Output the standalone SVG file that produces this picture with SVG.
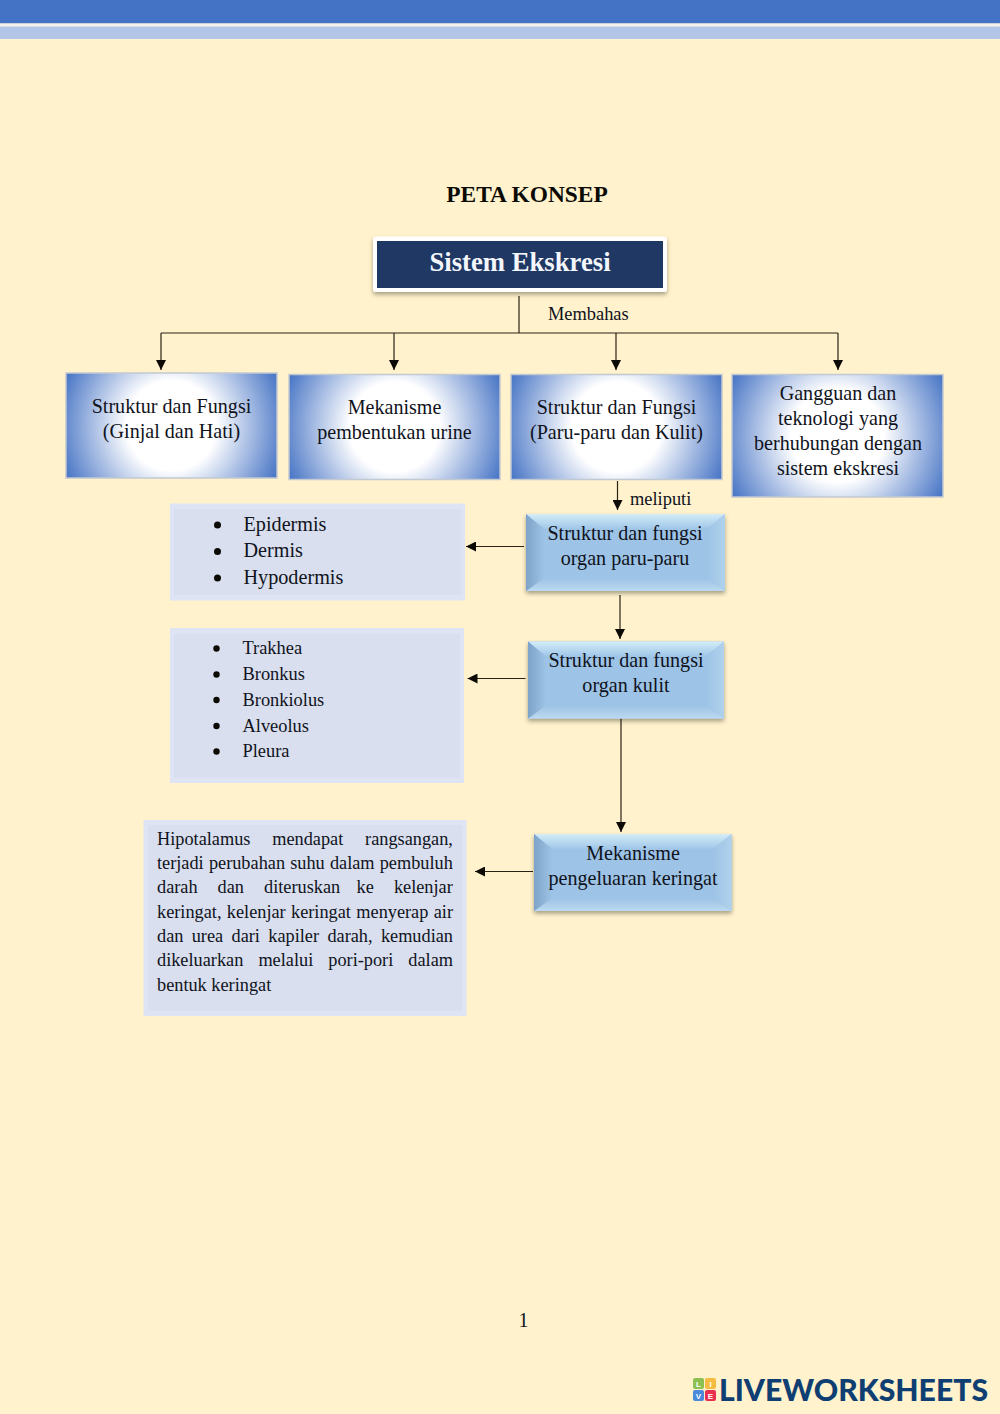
<svg xmlns="http://www.w3.org/2000/svg" width="1000" height="1414" viewBox="0 0 1000 1414">
<style>
text{font-family:"Liberation Serif","Times New Roman",serif;fill:#10131c}
.c{text-anchor:middle}
.n{font-size:20.1px}
.l{font-size:20.2px}
.m{font-size:18.400px}
.p{font-size:18.300px}
.t{font-size:18.400px}
.line{fill:none;stroke:#2a2214;stroke-width:1.2}
.rad{stroke:#c3c9d0;stroke-width:1.5}
.pale{fill:#dee4f3}
.palein{fill:#d9dfee}
.bm{fill:#9dc3e6}
.bt{fill:url(#bt)}
.bb{fill:url(#bb)}
.bl{fill:url(#bl)}
.br{fill:url(#br)}
</style>
<defs>
<radialGradient id="stops"><stop offset="0.38" stop-color="#fff"/><stop offset="1" stop-color="#4472c4"/></radialGradient>
<radialGradient id="rad1" href="#stops" gradientUnits="userSpaceOnUse" cx="171.500" cy="425.500" r="118"/>
<radialGradient id="rad2" href="#stops" gradientUnits="userSpaceOnUse" cx="394.500" cy="427" r="118"/>
<radialGradient id="rad3" href="#stops" gradientUnits="userSpaceOnUse" cx="616.500" cy="427" r="118"/>
<radialGradient id="rad4" href="#stops" gradientUnits="userSpaceOnUse" cx="837.500" cy="435.750" r="122"/>
<linearGradient id="bt" x1="0" y1="0" x2="0" y2="1"><stop offset="0" stop-color="#d4edf8"/><stop offset="1" stop-color="#9fc6e8"/></linearGradient>
<linearGradient id="bb" x1="0" y1="0" x2="0" y2="1"><stop offset="0" stop-color="#9dc3e6"/><stop offset="1" stop-color="#bcd9f0"/></linearGradient>
<linearGradient id="bl" x1="0" y1="0" x2="1" y2="0"><stop offset="0" stop-color="#7ea3c8"/><stop offset="1" stop-color="#9dc3e6"/></linearGradient>
<linearGradient id="br" x1="0" y1="0" x2="1" y2="0"><stop offset="0" stop-color="#9dc3e6"/><stop offset="1" stop-color="#b0d2ec"/></linearGradient>
<marker id="arrow" viewBox="0 0 10 10" refX="10" refY="5" markerWidth="10" markerHeight="10" markerUnits="userSpaceOnUse" orient="auto"><path d="M0 0L10 5L0 10Z" fill="#0c0a05"/></marker>
<filter id="sh" x="-10%" y="-15%" width="120%" height="135%"><feDropShadow dx="0" dy="2.5" stdDeviation="2" flood-color="#000" flood-opacity="0.35"/></filter>
</defs>

<rect width="1000" height="1414" fill="#fff2cc"/>
<rect width="1000" height="23.5" fill="#4472c4"/>
<rect y="23.5" width="1000" height="3" fill="#f4f1ef"/>
<rect y="26.5" width="1000" height="12.5" fill="#b4c6e7"/>

<text id="title" x="527" y="202" class="c" font-size="23.400" font-weight="bold" style="fill:#0c0a05">PETA KONSEP</text>

<g id="connectors">
<path class="line" d="M519 296V333"/>
<path class="line" d="M161 333H838"/>
<path class="line" d="M161 333V370" marker-end="url(#arrow)"/>
<path class="line" d="M394 333V370" marker-end="url(#arrow)"/>
<path class="line" d="M616 333V370" marker-end="url(#arrow)"/>
<path class="line" d="M838 333V370" marker-end="url(#arrow)"/>
<path class="line" d="M617.500 481V510" marker-end="url(#arrow)"/>
<path class="line" d="M524 546.500H466" marker-end="url(#arrow)"/>
<path class="line" d="M620 595V639" marker-end="url(#arrow)"/>
<path class="line" d="M525.500 678.500H467.500" marker-end="url(#arrow)"/>
<path class="line" d="M621 718V832" marker-end="url(#arrow)"/>
<path class="line" d="M533 871.500H475" marker-end="url(#arrow)"/>
</g>
<text id="label-membahas" class="t" x="548" y="319.500">Membahas</text>
<text id="label-meliputi" class="t" x="630" y="505">meliputi</text>

<g id="root">
<rect x="373" y="236.500" width="294" height="55.500" rx="3" fill="#fff" filter="url(#sh)"/>
<rect x="377" y="241" width="286" height="47" fill="#1f3864"/>
<text x="520" y="271" class="c" font-size="26.700" font-weight="bold" style="fill:#f3f6fb">Sistem Ekskresi</text>
</g>

<g id="topic-1">
<rect class="rad" fill="url(#rad1)" x="66" y="373" width="211" height="105"/>
<text class="c n" x="171.500" y="413">Struktur dan Fungsi</text>
<text class="c n" x="171.500" y="438">(Ginjal dan Hati)</text>
</g>
<g id="topic-2">
<rect class="rad" fill="url(#rad2)" x="289" y="374.500" width="211" height="105"/>
<text class="c n" x="394.500" y="414">Mekanisme</text>
<text class="c n" x="394.500" y="439">pembentukan urine</text>
</g>
<g id="topic-3">
<rect class="rad" fill="url(#rad3)" x="511" y="374.500" width="211" height="105"/>
<text class="c n" x="616.500" y="414">Struktur dan Fungsi</text>
<text class="c n" x="616.500" y="439">(Paru-paru dan Kulit)</text>
</g>
<g id="topic-4">
<rect class="rad" fill="url(#rad4)" x="732" y="374.500" width="211" height="122.500"/>
<text class="c n" x="838" y="399.500">Gangguan dan</text>
<text class="c n" x="838" y="424.500">teknologi yang</text>
<text class="c n" x="838" y="449.500">berhubungan dengan</text>
<text class="c n" x="838" y="474.500">sistem ekskresi</text>
</g>

<g id="organ-paru">
<g filter="url(#sh)">
<rect class="bm" x="526" y="514" width="199" height="77"/>
<path class="bt" d="M526 514H725L707 529H544Z"/>
<path class="bb" d="M526 591H725L707 578H544Z"/>
<path class="bl" d="M526 514L544 529V578L526 591Z"/>
<path class="br" d="M725 514L707 529V578L725 591Z"/>
</g>
<text class="c n" x="625" y="539.500">Struktur dan fungsi</text>
<text class="c n" x="625" y="564.500">organ paru-paru</text>
</g>

<g id="organ-kulit">
<g filter="url(#sh)">
<rect class="bm" x="528" y="641.500" width="196" height="77"/>
<path class="bt" d="M528 641.500H724L706 656.500H546Z"/>
<path class="bb" d="M528 718.500H724L706 705.500H546Z"/>
<path class="bl" d="M528 641.500L546 656.500V705.500L528 718.500Z"/>
<path class="br" d="M724 641.500L706 656.500V705.500L724 718.500Z"/>
</g>
<text class="c n" x="626" y="666.500">Struktur dan fungsi</text>
<text class="c n" x="626" y="691.500">organ kulit</text>
</g>

<g id="mekanisme-keringat">
<g filter="url(#sh)">
<rect class="bm" x="534" y="834" width="197.500" height="77"/>
<path class="bt" d="M534 834H731.500L713.500 849H552Z"/>
<path class="bb" d="M534 911H731.500L713.500 898H552Z"/>
<path class="bl" d="M534 834L552 849V898L534 911Z"/>
<path class="br" d="M731.500 834L713.500 849V898L731.500 911Z"/>
</g>
<text class="c n" x="633" y="859.500">Mekanisme</text>
<text class="c n" x="633" y="884.500">pengeluaran keringat</text>
</g>

<g id="list-kulit">
<rect class="pale" x="170" y="503.500" width="295" height="97"/>
<rect class="palein" x="174" y="509" width="287" height="86"/>
<circle cx="217.500" cy="525" r="3.500" fill="#0c0a05"/>
<circle cx="217.500" cy="551.500" r="3.500" fill="#0c0a05"/>
<circle cx="217.500" cy="578" r="3.500" fill="#0c0a05"/>
<text class="l" x="243.500" y="531">Epidermis</text>
<text class="l" x="243.500" y="557">Dermis</text>
<text class="l" x="243.500" y="583.500">Hypodermis</text>
</g>

<g id="list-paru">
<rect class="pale" x="170" y="628" width="294" height="155"/>
<rect class="palein" x="174" y="634" width="286" height="144"/>
<circle cx="216.500" cy="648.500" r="3.200" fill="#0c0a05"/>
<circle cx="216.500" cy="674.500" r="3.200" fill="#0c0a05"/>
<circle cx="216.500" cy="700" r="3.200" fill="#0c0a05"/>
<circle cx="216.500" cy="726" r="3.200" fill="#0c0a05"/>
<circle cx="216.500" cy="751.500" r="3.200" fill="#0c0a05"/>
<text class="m" x="242.500" y="654">Trakhea</text>
<text class="m" x="242.500" y="680">Bronkus</text>
<text class="m" x="242.500" y="705.500">Bronkiolus</text>
<text class="m" x="242.500" y="731.500">Alveolus</text>
<text class="m" x="242.500" y="757">Pleura</text>
</g>

<g id="penjelasan">
<rect class="pale" x="143.500" y="820" width="323" height="196"/>
<rect class="palein" x="148" y="825" width="314" height="186"/>
<text class="p" y="844.500"><tspan x="157">Hipotalamus</tspan><tspan x="272.200">mendapat</tspan><tspan x="365.100">rangsangan,</tspan></text>
<text class="p" y="868.800"><tspan x="157">terjadi</tspan><tspan x="208.900">perubahan</tspan><tspan x="290.200">suhu</tspan><tspan x="329.900">dalam</tspan><tspan x="379.700">pembuluh</tspan></text>
<text class="p" y="893.100"><tspan x="157">darah</tspan><tspan x="217.600">dan</tspan><tspan x="264">diteruskan</tspan><tspan x="356.600">ke</tspan><tspan x="393.900">kelenjar</tspan></text>
<text class="p" y="917.500"><tspan x="157">keringat,</tspan><tspan x="226.800">kelenjar</tspan><tspan x="291">keringat</tspan><tspan x="356.300">menyerap</tspan><tspan x="433.700">air</tspan></text>
<text class="p" y="941.800"><tspan x="157">dan</tspan><tspan x="191.700">urea</tspan><tspan x="231.500">dari</tspan><tspan x="268.300">kapiler</tspan><tspan x="327.400">darah,</tspan><tspan x="380.900">kemudian</tspan></text>
<text class="p" y="966.100"><tspan x="157">dikeluarkan</tspan><tspan x="258.400">melalui</tspan><tspan x="328.300">pori-pori</tspan><tspan x="408.300">dalam</tspan></text>
<text class="p" y="990.500"><tspan x="157">bentuk keringat</tspan></text>
</g>

<text id="page-number" x="523.500" y="1327" class="c" font-size="20">1</text>

<g id="logo">
<rect x="693" y="1378" width="11" height="11" rx="2" fill="#8cc152"/>
<rect x="705" y="1378" width="11" height="11" rx="2" fill="#f6bb42"/>
<rect x="693" y="1390" width="11" height="11" rx="2" fill="#4a89dc"/>
<rect x="705" y="1390" width="11" height="11" rx="2" fill="#e9304f"/>
<text x="698.500" y="1387" class="c" font-size="8" font-weight="bold" style="font-family:'Liberation Sans',sans-serif;fill:#fff">L</text>
<text x="710.500" y="1387" class="c" font-size="8" font-weight="bold" style="font-family:'Liberation Sans',sans-serif;fill:#fff">I</text>
<text x="698.500" y="1399" class="c" font-size="8" font-weight="bold" style="font-family:'Liberation Sans',sans-serif;fill:#fff">V</text>
<text x="710.500" y="1399" class="c" font-size="8" font-weight="bold" style="font-family:'Liberation Sans',sans-serif;fill:#fff">E</text>
<text x="719" y="1401" font-size="31" font-weight="900" textLength="269" lengthAdjust="spacingAndGlyphs" style="font-family:Lato,'Liberation Sans',sans-serif;fill:#0f3f72">LIVEWORKSHEETS</text>
</g>
</svg>
